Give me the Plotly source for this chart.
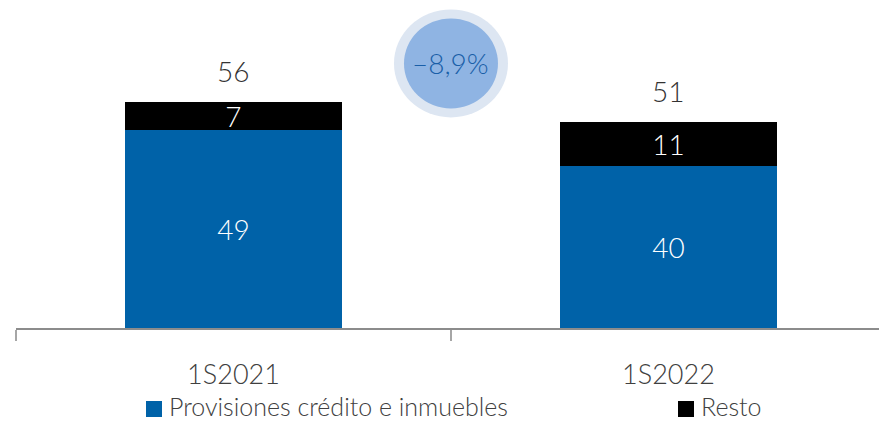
import plotly.graph_objects as go

categories = ["1S2021", "1S2022"]
provisiones = [49, 40]
resto = [7, 11]
totales = [56, 51]
variacion = "–8,9%"
serie_names = ["Provisiones crédito e inmuebles", "Resto"]

BLUE = "#0062a8"
BLACK = "#000000"
FONT = "Lato"

fig = go.Figure()
for vals, nm, col in [(provisiones, serie_names[0], BLUE), (resto, serie_names[1], BLACK)]:
    fig.add_trace(go.Bar(
        x=categories, y=vals, name=nm, marker_color=col,
        marker_line_width=0, width=0.5, text=[str(v) for v in vals],
        textposition="inside", insidetextanchor="middle", constraintext="none",
        textangle=0,
        textfont=dict(color="white", size=28, family=FONT, weight=300),
        showlegend=False, hoverinfo="skip"))

for c, t in zip(categories, totales):
    fig.add_annotation(x=c, y=t, text=str(t), showarrow=False, yanchor="bottom",
                       yshift=12, font=dict(size=28, color="#333333", family=FONT, weight=300))

# variation bubble
fig.add_shape(type="circle", xref="x", yref="y", xsizemode="pixel", ysizemode="pixel",
              xanchor=0.5, yanchor=65.5, x0=-57, x1=57, y0=-54, y1=54,
              fillcolor="#dde6f2", line_width=0, layer="above")
fig.add_shape(type="circle", xref="x", yref="y", xsizemode="pixel", ysizemode="pixel",
              xanchor=0.5, yanchor=65.5, x0=-47, x1=47, y0=-45, y1=45,
              fillcolor="#8fb4e3", line_width=0, layer="above")
fig.add_annotation(x=0.5, y=65.5, text=variacion, showarrow=False,
                   font=dict(size=28, color="#1a5fa8", family=FONT, weight=300))

# manual legend (paper coords relative to plot area: x 16..879 px, y 0..328 px)
PW, PH, L = 863.0, 328.0, 16.0
def px(xp):
    return (xp - L) / PW
def py(yp):
    return (PH - yp) / PH
legend_items = [(serie_names[0], BLUE, 146), (serie_names[1], BLACK, 678)]
for nm, col, x0 in legend_items:
    fig.add_shape(type="rect", xref="paper", yref="paper",
                  x0=px(x0), x1=px(x0 + 16), y0=py(417), y1=py(401),
                  fillcolor=col, line_width=0)
    fig.add_annotation(xref="paper", yref="paper", x=px(x0 + 21), y=py(406),
                       xanchor="left", yanchor="middle", text=nm, showarrow=False,
                       font=dict(size=25, color="#404040", family=FONT, weight=300))

fig.update_layout(
    width=879, height=422, barmode="stack",
    margin=dict(l=16, r=0, t=0, b=94, autoexpand=False),
    plot_bgcolor="white", paper_bgcolor="white",
    font=dict(family=FONT),
    showlegend=False,
    xaxis=dict(range=[-0.5, 1.484], showline=True, linecolor="#8c8c8c", linewidth=2,
               ticks="outside", tickson="boundaries", ticklen=11, tickwidth=2,
               tickcolor="#a6a6a6", ticklabelstandoff=22, automargin=False,
               tickfont=dict(size=27, color="#404040", family=FONT, weight=300),
               showgrid=False, zeroline=False),
    yaxis=dict(range=[0, 81.2], visible=False, showgrid=False, zeroline=False),
)

fig.write_html("out.html", config={"displayModeBar": False, "staticPlot": True},
               post_script="document.body.style.margin='0';document.body.style.overflow='hidden';")
